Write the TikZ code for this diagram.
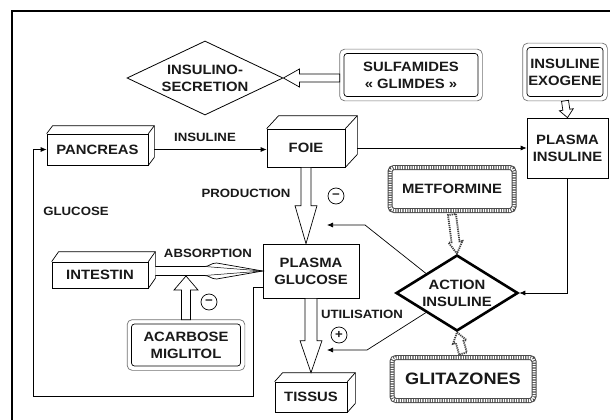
\documentclass[tikz,border=0pt]{standalone}
\usepackage{fontspec}
\setmainfont{Liberation Sans}[FakeStretch=1.1]
\usetikzlibrary{shapes.geometric, calc, arrows.meta}

\newcommand\cuboid[3]{%
  \draw[line width=0.7pt, line join=round] (#1.north west) -- ++(#2,-#3) -- ($(#1.north east)+(#2,-#3)$) -- ($(#1.south east)+(#2,-#3)$) -- (#1.south east);
  \draw[line width=0.7pt] (#1.north east) -- ++(#2,-#3);}
\newcommand\outerframe[1]{%
  \draw[black!55, line width=0.7pt, rounded corners=5pt] ($(#1.south west)+(-4,4)$) rectangle ($(#1.north east)+(4,-4)$);}
\newcommand\hollowarrow[6][]{%
  \path (#2) coordinate (hA) (#3) coordinate (hB);
  \path ($(hB)!#6pt!(hA)$) coordinate (hH);
  \draw[hollow,#1] ($(hA)!#4pt!90:(hB)$) -- ($(hH)!#4pt!90:(hB)$) -- ($(hH)!#5pt!90:(hB)$) -- (hB) -- ($(hH)!#5pt!-90:(hB)$) -- ($(hH)!#4pt!-90:(hB)$) -- ($(hA)!#4pt!-90:(hB)$) -- cycle;}

\begin{document}
\begin{tikzpicture}[x=1pt, y=-1pt,
  every node/.style={align=center, inner sep=0pt, text=black!90},
  boxtxt/.style={font=\bfseries\fontsize{13.5}{17}\selectfont},
  lbl/.style={font=\bfseries\fontsize{12}{14}\selectfont},
  plainbox/.style={draw, line width=0.7pt, boxtxt},
  dblbox/.style={draw, line width=0.7pt, rounded corners=3pt, boxtxt},
  hatchbox/.style={boxtxt, rounded corners=4pt, preaction={draw=black!70, line width=5pt, solid}, draw=white, line width=3pt, dash pattern=on 1.3pt off 1.1pt},
  conn/.style={line width=0.7pt, -{Latex[length=6pt,width=5pt]}},
  hollow/.style={draw, line width=0.7pt, fill=white, line join=miter},
  hatcharrow/.style={draw=black!75, line width=1.8pt, dash pattern=on 1.2pt off 0.9pt},
  sign/.style={draw, circle, line width=0.7pt, minimum size=16pt, font=\bfseries\fontsize{12}{12}\selectfont}
]
\useasboundingbox (0,0) rectangle (610,420);
\fill[white] (0,0) rectangle (610,420);
\draw[line width=2.5pt] (12,420) -- (12,11) -- (610,11);

% nodes
\node[diamond, draw, line width=0.8pt, boxtxt, aspect=2, minimum width=156pt, minimum height=74pt] (isec) at (205,78) {INSULINO-\\SECRETION};
\node[dblbox, minimum width=134pt, minimum height=43pt] (sulf) at (411,75) {SULFAMIDES\\« GLIMDES »};
\node[dblbox, minimum width=76pt, minimum height=49pt] (exo) at (565,72) {INSULINE\\EXOGENE};
\node[plainbox, minimum width=101pt, minimum height=31pt] (pan) at (97.5,149.5) {PANCREAS};
\node[plainbox, minimum width=78pt, minimum height=38pt] (foie) at (306,148) {FOIE};
\node[plainbox, minimum width=81pt, minimum height=60pt] (pi) at (567.5,148) {PLASMA\\INSULINE};
\node[hatchbox, minimum width=124pt, minimum height=43pt] (met) at (452,189) {METFORMINE};
\node[plainbox, minimum width=96pt, minimum height=54pt] (pg) at (311,271) {PLASMA\\GLUCOSE};
\node[plainbox, minimum width=96pt, minimum height=26pt] (int) at (100,275) {INTESTIN};
\node[diamond, draw, line width=2.6pt, boxtxt, aspect=1.6, minimum width=122pt, minimum height=76pt] (act) at (457,293) {ACTION\\INSULINE};
\node[dblbox, minimum width=109pt, minimum height=42pt] (aca) at (186,345) {ACARBOSE\\MIGLITOL};
\node[plainbox, minimum width=72pt, minimum height=30pt] (tis) at (311,397) {TISSUS};
\node[hatchbox, minimum width=142pt, minimum height=43pt, font=\bfseries\fontsize{16.5}{18}\selectfont] (gli) at (463,379) {GLITAZONES};

\cuboid{pan}{6}{8}
\cuboid{foie}{12}{13}
\cuboid{int}{7}{10}
\cuboid{tis}{8}{9}
\outerframe{sulf}
\outerframe{exo}
\outerframe{aca}

% labels and signs
\node[lbl] (linsu) at (205,137.5) {INSULINE};
\node[lbl] (lprod) at (246,193) {PRODUCTION};
\node[lbl] (lglu) at (76,211) {GLUCOSE};
\node[lbl] (labs) at (208,253) {ABSORPTION};
\node[lbl] (luti) at (362,314) {UTILISATION};
\node[sign] (m1) at (336,196) {−};
\node[sign] (m2) at (209,302) {−};
\node[sign] (p1) at (339,335) {+};

% thin connectors
\draw[conn] ($(pan.east)+(6,0)$) -- (pan.east -| foie.west);
\draw[conn] ($(foie.east)+(12,0)$) -- (pi.west);
\draw[conn] (pi.south) |- (act.east);
\coordinate (b1) at (365,225);
\coordinate (t1) at (327,225);
\draw[conn] (act.north west) -- (b1) -- (t1);
\coordinate (b2) at (367,350);
\coordinate (t2) at (327,350);
\draw[conn] (act.south west) -- (b2) -- (t2);
\coordinate (g1) at (253,287);
\coordinate (g2) at (253,396);
\coordinate (g3) at (33,396);
\draw[conn] (pg.west |- g1) -- (g1) -- (g2) -- (g3) -- (g3 |- pan.west) -- (pan.west);

% hollow arrows
\hollowarrow{$(sulf.west |- isec.east)+(-4,0)$}{isec.east}{4}{9}{16}
\hollowarrow{$(exo.south)+(0,4)$}{pi.north}{3.5}{7}{8}
\hollowarrow{foie.south}{foie.south |- pg.north}{5}{11}{38}
\hollowarrow{pg.south}{$(pg.south |- tis.north)+(0,-9)$}{6}{11}{32}
\coordinate (abA) at ($(int.east)+(7,-4)$);
\coordinate (abB) at (pg.west |- abA);
\draw[hollow] ($(abA)+(0,-4.5)$) -- ($(abB)+(-58,-4.5)$) .. controls ($(abB)+(-53,-4.5)$) and ($(abB)+(-52,-8)$) .. ($(abB)+(-46,-8)$) -- (abB) -- ($(abB)+(-46,8)$) .. controls ($(abB)+(-52,8)$) and ($(abB)+(-53,4.5)$) .. ($(abB)+(-58,4.5)$) -- ($(abA)+(0,4.5)$);
\draw[line width=0.5pt] ($(abB)+(-58,-4.5)$) -- (abB) -- ($(abB)+(-58,4.5)$);
\hollowarrow{$(aca.north)+(0,-4)$}{$(aca.north |- abA)+(0,5)$}{4.5}{12}{14}
\hollowarrow[hatcharrow]{$(met.south)+(0,2.5)$}{act.north}{4}{7}{12}
\hollowarrow[hatcharrow]{$(gli.north)+(0,-2.5)$}{act.south}{4}{7}{10}
\end{tikzpicture}
\end{document}
